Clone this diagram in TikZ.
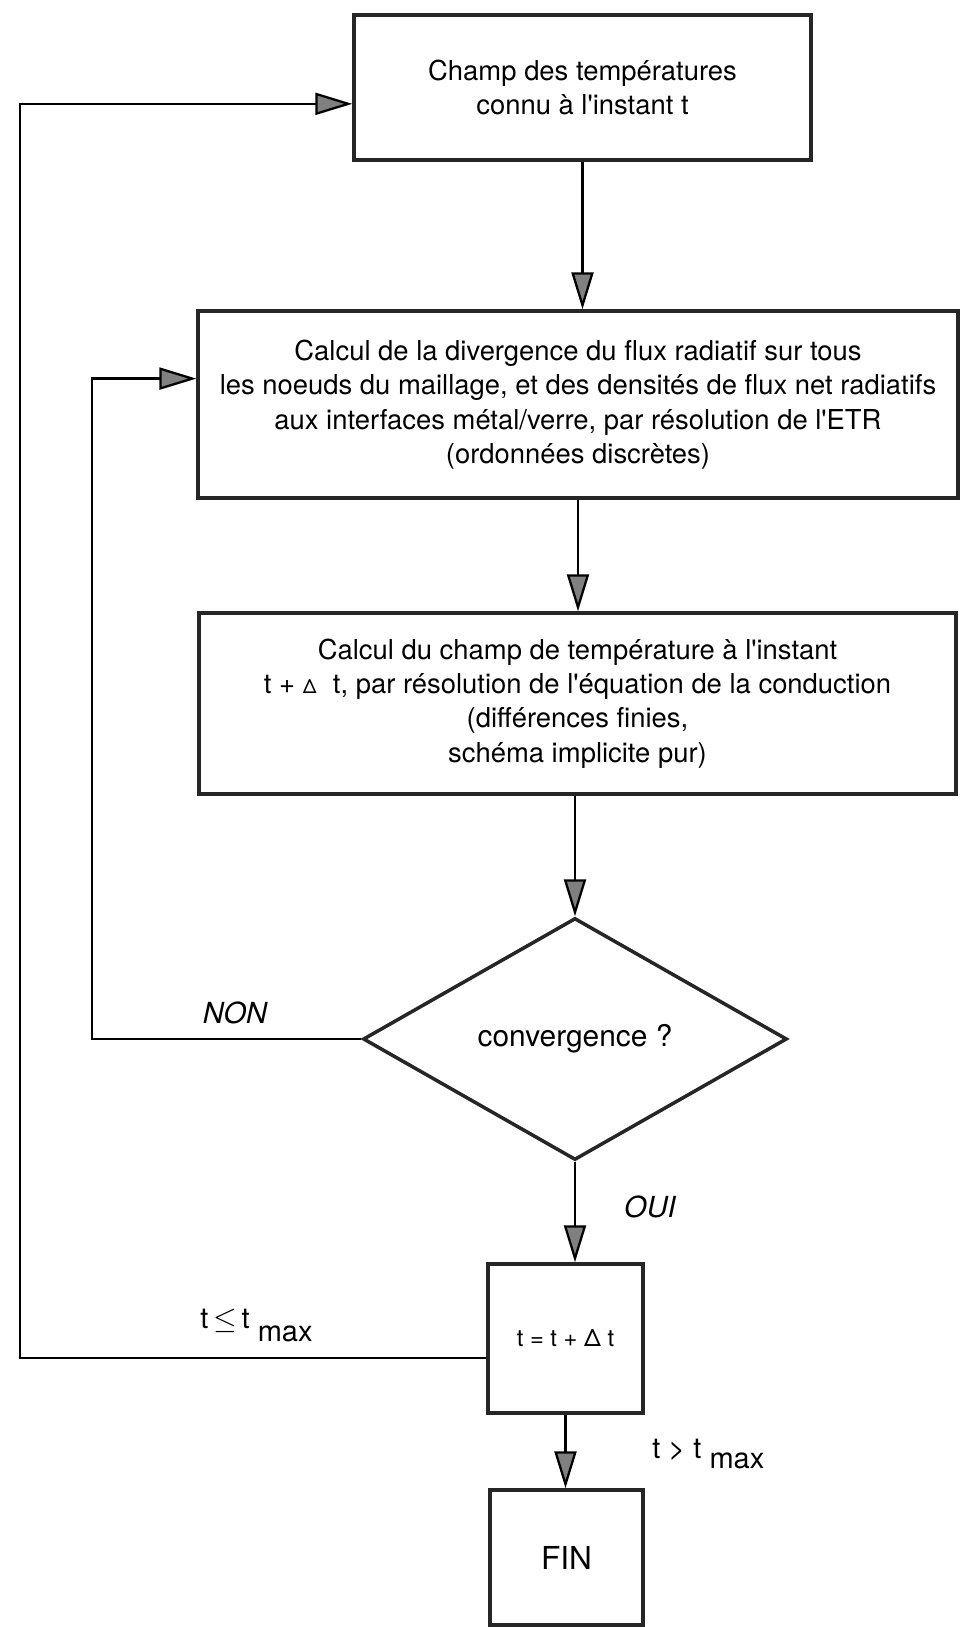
\documentclass[tikz,border=0pt]{standalone}
\usepackage{fontspec}
\setmainfont{TeX Gyre Heros}[Ligatures=TeXOff]
\usetikzlibrary{shapes.geometric,arrows.meta,calc}

\tikzset{
  boite/.style={draw=black!85,line width=2pt,align=center,inner sep=0pt,
    font=\fontsize{15.6}{19.6}\selectfont},
  losange/.style={diamond,draw=black!85,line width=2pt,inner sep=0pt,
    font=\fontsize{17}{20}\selectfont},
  fleche/.style={line width=1.3pt,-{Triangle[length=21pt,width=12.5pt,fill=black!50]}},
  etiquette/.style={font=\fontsize{16.5}{20}\selectfont\itshape},
  condition/.style={anchor=base west,inner sep=0pt,font=\fontsize{16.5}{20}\selectfont}
}

\begin{document}
\begin{tikzpicture}[x=0.02cm,y=-0.02cm]
\useasboundingbox (0,0) rectangle (960,1627);

% The boxes
\node[boite,minimum width=9.14cm,minimum height=2.9cm] (champ) at (582.5,87.5)
  {Champ des températures\\connu à l'instant t};
\node[boite,minimum width=15.2cm,minimum height=3.74cm] (etr) at (578,404.5)
  {Calcul de la divergence du flux radiatif sur tous\\
   les noeuds du maillage, et des densités de flux net radiatifs\\
   aux interfaces métal/verre, par résolution de l'ETR\\
   (ordonnées discrètes)};
\node[boite,minimum width=15.14cm,minimum height=3.62cm] (cond) at (577.5,703.5)
  {Calcul du champ de température à l'instant\\
   t + {\fontsize{11}{13}\selectfont Δ}\hspace{0.6em}t, par résolution de l'équation de la conduction\\
   (différences finies,\\
   schéma implicite pur)};
\node[losange,minimum width=8.48cm,minimum height=4.84cm] (test) at (575,1039)
  {convergence ?};
\node[boite,minimum width=3.1cm,minimum height=2.98cm,
  font=\fontsize{13.5}{16}\selectfont] (pas) at (565.5,1338.5) {t = t + Δ t};
\node[boite,minimum width=3.06cm,minimum height=2.7cm,
  font=\fontsize{18}{20}\selectfont] (fin) at (566.5,1557.5) {FIN};

% The labels
\node[etiquette] (non) at (235,1013) {NON};
\node[etiquette] (oui) at (650,1207) {OUI};
\node[condition] (tinf) at (200,1328) {t\,$\leq$\,t\ \raisebox{-7.4pt}{max}};
\node[condition] (tsup) at (652,1458) {t > t\ \raisebox{-5.7pt}{max}};

% The straight arrows
\draw[fleche] (champ.south) -- (champ.south |- etr.north);
\draw[fleche] (etr.south) -- (etr.south |- cond.north);
\draw[fleche] (cond.south -| test.north) -- (test.north);
\draw[fleche] (test.south) -- (test.south |- pas.north);
\draw[fleche] (pas.south) -- (pas.south |- fin.north);

% The loops
\coordinate (gauche) at (20,0);
\coordinate (gauche2) at (92,0);
\coordinate (depart) at ($(pas.north west)!0.63!(pas.south west)$);
\coordinate (arrivee) at ($(champ.north west)!0.61!(champ.south west)$);
\coordinate (entree) at ($(etr.north west)!0.364!(etr.south west)$);
\draw[fleche] (depart) -- (depart -| gauche) |- (arrivee);
\draw[fleche] (test.west) -- (test.west -| gauche2) |- (entree);

\end{tikzpicture}
\end{document}
